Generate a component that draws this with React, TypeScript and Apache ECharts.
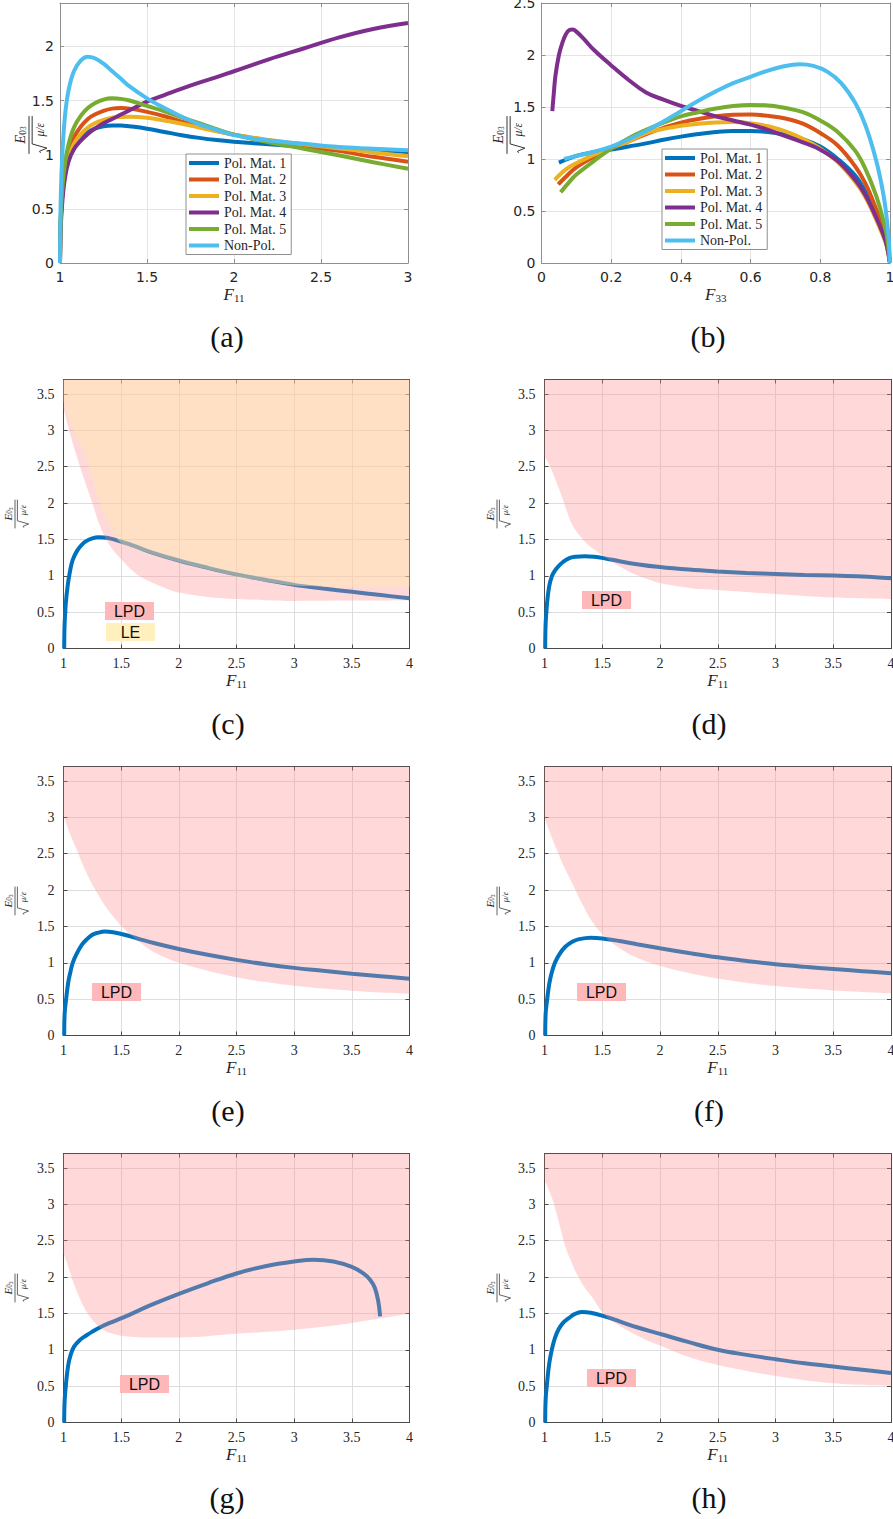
import React, { useEffect, useRef } from "react";
import * as echarts from "echarts";

// ---------------- names / colours ----------------
const curveNames = ["Pol. Mat. 1", "Pol. Mat. 2", "Pol. Mat. 3", "Pol. Mat. 4", "Pol. Mat. 5", "Non-Pol."];
const curveColors = ["#0072BD", "#D95319", "#EDB120", "#7E2F8E", "#77AC30", "#4DBEEE"];
const captions = ["(a)", "(b)", "(c)", "(d)", "(e)", "(f)", "(g)", "(h)"];

// ---------------- panel (a): E vs F11 ----------------
const aF11 = [1, 1.005, 1.015, 1.03, 1.05, 1.08, 1.12, 1.16, 1.2, 1.25, 1.3, 1.35, 1.4, 1.5, 1.6, 1.7, 1.8, 1.9, 2.0, 2.2, 2.4, 2.6, 2.8, 3.0];
const aPol1 = [0, 0.42, 0.66, 0.85, 0.98, 1.08, 1.16, 1.21, 1.24, 1.262, 1.27, 1.27, 1.262, 1.24, 1.21, 1.18, 1.155, 1.135, 1.12, 1.095, 1.075, 1.055, 1.04, 1.025];
const aPol2 = [0, 0.42, 0.68, 0.88, 1.03, 1.16, 1.26, 1.33, 1.37, 1.405, 1.425, 1.43, 1.425, 1.395, 1.355, 1.305, 1.26, 1.22, 1.185, 1.13, 1.08, 1.035, 0.98, 0.935];
const aPol3 = [0, 0.4, 0.65, 0.84, 0.98, 1.1, 1.19, 1.25, 1.29, 1.32, 1.34, 1.348, 1.35, 1.34, 1.315, 1.285, 1.25, 1.215, 1.185, 1.135, 1.095, 1.06, 1.02, 0.985];
const aPol4 = [0, 0.35, 0.6, 0.8, 0.94, 1.05, 1.13, 1.19, 1.24, 1.29, 1.33, 1.37, 1.41, 1.49, 1.55, 1.61, 1.665, 1.715, 1.77, 1.88, 1.98, 2.08, 2.16, 2.215];
const aPol5 = [0, 0.45, 0.72, 0.93, 1.1, 1.25, 1.36, 1.43, 1.475, 1.508, 1.52, 1.515, 1.5, 1.45, 1.4, 1.345, 1.29, 1.235, 1.185, 1.115, 1.055, 0.995, 0.93, 0.87];
const aNonPol = [0, 0.65, 1.05, 1.38, 1.6, 1.77, 1.87, 1.905, 1.89, 1.84, 1.77, 1.7, 1.63, 1.52, 1.43, 1.35, 1.28, 1.23, 1.18, 1.13, 1.1, 1.07, 1.055, 1.04];

// ---------------- panel (b): E vs F33 ----------------
const bPol1F33 = [0.05, 0.1, 0.15, 0.2, 0.25, 0.3, 0.35, 0.4, 0.45, 0.5, 0.55, 0.6, 0.65, 0.7, 0.75, 0.8, 0.85, 0.9, 0.93, 0.96, 0.98, 0.99, 1.0];
const bPol1E = [0.965, 1.03, 1.065, 1.09, 1.12, 1.15, 1.185, 1.215, 1.24, 1.26, 1.27, 1.27, 1.26, 1.235, 1.19, 1.12, 1.0, 0.84, 0.68, 0.45, 0.28, 0.18, 0];
const bPol2F33 = [0.048, 0.07, 0.1, 0.15, 0.2, 0.25, 0.3, 0.35, 0.4, 0.45, 0.5, 0.55, 0.6, 0.65, 0.7, 0.75, 0.8, 0.85, 0.9, 0.93, 0.96, 0.98, 0.99, 1.0];
const bPol2E = [0.756, 0.83, 0.92, 1.02, 1.1, 1.17, 1.24, 1.3, 1.35, 1.385, 1.41, 1.425, 1.428, 1.415, 1.39, 1.34, 1.25, 1.13, 0.93, 0.76, 0.52, 0.33, 0.22, 0];
const bPol3F33 = [0.038, 0.07, 0.1, 0.15, 0.2, 0.25, 0.3, 0.35, 0.4, 0.45, 0.5, 0.55, 0.6, 0.65, 0.7, 0.75, 0.8, 0.85, 0.9, 0.93, 0.96, 0.98, 0.99, 1.0];
const bPol3E = [0.8, 0.9, 0.96, 1.04, 1.11, 1.17, 1.25, 1.29, 1.32, 1.34, 1.352, 1.355, 1.345, 1.315, 1.265, 1.195, 1.1, 0.97, 0.78, 0.63, 0.42, 0.26, 0.17, 0];
const bPol4F33 = [0.031, 0.035, 0.04, 0.05, 0.06, 0.07, 0.08, 0.09, 0.1, 0.12, 0.15, 0.2, 0.25, 0.3, 0.35, 0.4, 0.45, 0.5, 0.55, 0.6, 0.65, 0.7, 0.75, 0.8, 0.85, 0.9, 0.93, 0.96, 0.98, 0.99, 1.0];
const bPol4E = [1.46, 1.62, 1.8, 2.0, 2.12, 2.2, 2.24, 2.245, 2.225, 2.16, 2.05, 1.9, 1.76, 1.64, 1.57, 1.51, 1.46, 1.41, 1.37, 1.33, 1.28, 1.22, 1.16, 1.09, 0.98, 0.8, 0.65, 0.44, 0.28, 0.18, 0];
const bPol5F33 = [0.055, 0.08, 0.1, 0.15, 0.2, 0.25, 0.3, 0.35, 0.4, 0.45, 0.5, 0.55, 0.6, 0.65, 0.7, 0.75, 0.8, 0.85, 0.9, 0.93, 0.96, 0.98, 0.99, 1.0];
const bPol5E = [0.68, 0.78, 0.85, 0.98, 1.1, 1.2, 1.28, 1.35, 1.41, 1.45, 1.485, 1.51, 1.52, 1.515, 1.49, 1.45, 1.37, 1.26, 1.08, 0.9, 0.65, 0.42, 0.28, 0];
const bNonPolF33 = [0.065, 0.1, 0.15, 0.2, 0.25, 0.3, 0.35, 0.4, 0.45, 0.5, 0.55, 0.6, 0.65, 0.7, 0.74, 0.78, 0.82, 0.86, 0.9, 0.93, 0.96, 0.98, 0.99, 0.997, 1.0];
const bNonPolE = [1.0, 1.03, 1.07, 1.12, 1.19, 1.27, 1.36, 1.46, 1.56, 1.65, 1.73, 1.79, 1.85, 1.895, 1.91, 1.895, 1.84, 1.73, 1.54, 1.32, 0.99, 0.68, 0.45, 0.2, 0];

// ---------------- panel (c) ----------------
const cF11 = [1.006, 1.01, 1.02, 1.035, 1.055, 1.08, 1.12, 1.16, 1.2, 1.25, 1.3, 1.35, 1.4, 1.5, 1.6, 1.75, 2.0, 2.25, 2.5, 2.75, 3.0, 3.25, 3.5, 3.75, 4.0];
const cE = [0, 0.35, 0.62, 0.85, 1.05, 1.22, 1.35, 1.43, 1.48, 1.515, 1.53, 1.528, 1.515, 1.47, 1.42, 1.33, 1.21, 1.11, 1.02, 0.945, 0.875, 0.825, 0.78, 0.735, 0.69];
const cLpdF11 = [1, 1.05, 1.1, 1.173, 1.25, 1.318, 1.4, 1.52, 1.62, 1.75, 1.9, 2.0, 2.25, 2.5, 2.75, 3.0, 3.5, 4.0];
const cLpdE = [3.3, 3.0, 2.72, 2.36, 2.0, 1.68, 1.42, 1.195, 1.04, 0.92, 0.82, 0.77, 0.71, 0.68, 0.665, 0.655, 0.66, 0.665];
const cLeF11 = [1, 1.05, 1.1, 1.173, 1.25, 1.318, 1.405, 1.45, 1.5, 1.6, 1.75, 2.0, 2.25, 2.5, 2.75, 3.0, 3.25, 3.5, 3.75, 4.0];
const cLeE = [3.4, 3.15, 2.95, 2.73, 2.35, 2.0, 1.68, 1.55, 1.45, 1.39, 1.305, 1.185, 1.085, 0.995, 0.92, 0.865, 0.852, 0.85, 0.85, 0.85];

// ---------------- panel (d) ----------------
const dF11 = [1.006, 1.01, 1.022, 1.04, 1.063, 1.09, 1.12, 1.16, 1.21, 1.27, 1.35, 1.43, 1.52, 1.65, 1.8, 2.0, 2.25, 2.5, 2.75, 3.0, 3.25, 3.5, 3.75, 4.0];
const dE = [0, 0.35, 0.62, 0.85, 0.99, 1.07, 1.13, 1.19, 1.24, 1.262, 1.27, 1.262, 1.24, 1.2, 1.16, 1.12, 1.085, 1.06, 1.04, 1.025, 1.012, 1.003, 0.99, 0.966];
const dLpdF11 = [1, 1.05, 1.1, 1.15, 1.2, 1.24, 1.3, 1.35, 1.43, 1.52, 1.65, 1.76, 1.9, 2.0, 2.27, 2.5, 3.0, 3.5, 4.0];
const dLpdE = [2.64, 2.5, 2.3, 2.09, 1.86, 1.7, 1.56, 1.47, 1.36, 1.26, 1.13, 1.035, 0.95, 0.9, 0.83, 0.806, 0.75, 0.7, 0.68];

// ---------------- panel (e) ----------------
const eF11 = [1.006, 1.01, 1.022, 1.04, 1.058, 1.08, 1.116, 1.16, 1.2, 1.25, 1.29, 1.36, 1.43, 1.52, 1.65, 1.8, 2.0, 2.25, 2.5, 2.75, 3.0, 3.25, 3.5, 3.75, 4.0];
const eE = [0, 0.3, 0.49, 0.72, 0.86, 1.0, 1.13, 1.25, 1.32, 1.385, 1.41, 1.43, 1.42, 1.39, 1.33, 1.265, 1.19, 1.11, 1.04, 0.98, 0.93, 0.89, 0.85, 0.815, 0.78];
const eLpdF11 = [1, 1.05, 1.116, 1.17, 1.23, 1.3, 1.376, 1.45, 1.52, 1.6, 1.75, 1.9, 2.0, 2.25, 2.5, 2.75, 3.0, 3.5, 4.0];
const eLpdE = [3.03, 2.8, 2.55, 2.34, 2.14, 1.94, 1.75, 1.6, 1.475, 1.36, 1.18, 1.06, 1.0, 0.89, 0.8, 0.735, 0.685, 0.617, 0.575];

// ---------------- panel (f) ----------------
const fF11 = [1.006, 1.01, 1.022, 1.04, 1.06, 1.09, 1.13, 1.18, 1.24, 1.3, 1.4, 1.5, 1.65, 1.8, 2.0, 2.25, 2.5, 2.75, 3.0, 3.25, 3.5, 3.75, 4.0];
const fE = [0, 0.3, 0.48, 0.7, 0.85, 1.0, 1.12, 1.22, 1.29, 1.325, 1.345, 1.335, 1.3, 1.255, 1.2, 1.135, 1.075, 1.025, 0.98, 0.945, 0.915, 0.885, 0.855];
const fLpdF11 = [1, 1.05, 1.1, 1.17, 1.25, 1.33, 1.42, 1.52, 1.65, 1.8, 2.0, 2.25, 2.5, 2.75, 3.0, 3.5, 4.0];
const fLpdE = [3.0, 2.78, 2.58, 2.32, 2.06, 1.8, 1.55, 1.36, 1.2, 1.07, 0.96, 0.86, 0.785, 0.725, 0.68, 0.62, 0.58];

// ---------------- panel (g) ----------------
const gF11 = [1.006, 1.01, 1.022, 1.04, 1.058, 1.09, 1.145, 1.2, 1.25, 1.318, 1.4, 1.52, 1.75, 2.0, 2.25, 2.5, 2.75, 3.0, 3.17, 3.34, 3.5, 3.6, 3.66, 3.7, 3.73, 3.745];
const gE = [0, 0.3, 0.54, 0.78, 0.91, 1.04, 1.14, 1.2, 1.25, 1.31, 1.37, 1.445, 1.61, 1.77, 1.915, 2.05, 2.15, 2.215, 2.24, 2.215, 2.14, 2.05, 1.96, 1.85, 1.66, 1.46];
const gLpdF11 = [1, 1.04, 1.087, 1.13, 1.173, 1.23, 1.29, 1.35, 1.405, 1.52, 1.75, 2.0, 2.5, 3.0, 3.5, 4.0];
const gLpdE = [2.33, 2.15, 1.92, 1.75, 1.6, 1.45, 1.34, 1.27, 1.23, 1.19, 1.17, 1.17, 1.22, 1.275, 1.37, 1.5];

// ---------------- panel (h) ----------------
const hF11 = [1.006, 1.01, 1.022, 1.04, 1.063, 1.09, 1.12, 1.16, 1.21, 1.26, 1.32, 1.4, 1.52, 1.65, 1.8, 2.02, 2.25, 2.5, 2.75, 3.0, 3.25, 3.5, 3.75, 4.0];
const hE = [0, 0.32, 0.54, 0.8, 1.0, 1.16, 1.275, 1.37, 1.435, 1.49, 1.52, 1.51, 1.46, 1.39, 1.31, 1.21, 1.105, 1.0, 0.93, 0.87, 0.815, 0.77, 0.725, 0.68];
const hLpdF11 = [1, 1.05, 1.09, 1.13, 1.18, 1.24, 1.29, 1.35, 1.41, 1.52, 1.64, 1.76, 1.9, 2.02, 2.25, 2.5, 2.75, 3.0, 3.5, 4.0];
const hLpdE = [3.34, 3.15, 2.96, 2.72, 2.42, 2.18, 2.01, 1.85, 1.73, 1.48, 1.34, 1.23, 1.12, 1.045, 0.9, 0.79, 0.71, 0.64, 0.54, 0.505];

// ---------------- layout (pixels) ----------------
const LAYOUT = [
  { left: 60, top: 3, width: 348, height: 260 },
  { left: 541.5, top: 3, width: 348.5, height: 260 },
  { left: 63.5, top: 379.5, width: 346, height: 269 },
  { left: 544.5, top: 379.5, width: 346.5, height: 269 },
  { left: 63.5, top: 766.5, width: 346, height: 269 },
  { left: 544.5, top: 766.5, width: 346.5, height: 269 },
  { left: 63.5, top: 1153.5, width: 346, height: 269 },
  { left: 544.5, top: 1153.5, width: 346.5, height: 269 },
];
const AXES = [
  { xMin: 1, xMax: 3, xStep: 0.5, yMax: 2.4, sub: "11" },
  { xMin: 0, xMax: 1, xStep: 0.2, yMax: 2.5, sub: "33" },
  { xMin: 1, xMax: 4, xStep: 0.5, yMax: 3.7, sub: "11" },
  { xMin: 1, xMax: 4, xStep: 0.5, yMax: 3.7, sub: "11" },
  { xMin: 1, xMax: 4, xStep: 0.5, yMax: 3.7, sub: "11" },
  { xMin: 1, xMax: 4, xStep: 0.5, yMax: 3.7, sub: "11" },
  { xMin: 1, xMax: 4, xStep: 0.5, yMax: 3.7, sub: "11" },
  { xMin: 1, xMax: 4, xStep: 0.5, yMax: 3.7, sub: "11" },
];
const CAPTION_POS = [[227, 336], [708, 336], [228, 723], [709, 723], [228, 1110], [709, 1110], [227, 1497], [709, 1497]];
const YLABEL_POS = [[29, 135, 1.05], [507, 135, 1.05], [15, 514, 0.8], [497, 514, 0.8], [15, 901, 0.8], [497, 901, 0.8], [15, 1288, 0.8], [497, 1288, 0.8]];
const TAGS = [
  { text: "LPD", x: 105, y: 602, fill: "#FFB8BA" },
  { text: "LE", x: 106, y: 623, fill: "#FFF0BE" },
  { text: "LPD", x: 582, y: 591, fill: "#FFB8BA" },
  { text: "LPD", x: 92, y: 983, fill: "#FFB8BA" },
  { text: "LPD", x: 577, y: 983, fill: "#FFB8BA" },
  { text: "LPD", x: 120, y: 1375, fill: "#FFB8BA" },
  { text: "LPD", x: 587, y: 1369, fill: "#FFB8BA" },
];

const INK = "#262626";
const LPD_COLOR = "rgb(255,140,140)";
const LE_COLOR = "rgb(255,235,168)";

const zip = (xs: number[], ys: number[]) => xs.map((x, i) => [x, ys[i]]);

function yLabel(cx: number, cy: number, s: number) {
  return {
    type: "group",
    x: cx,
    y: cy,
    rotation: Math.PI / 2,
    scaleX: s,
    scaleY: s,
    silent: true,
    children: [
      { type: "line", shape: { x1: -18, y1: 0, x2: 18, y2: 0 }, style: { stroke: INK, lineWidth: 0.9 } },
      {
        type: "text",
        style: {
          text: "{e|E}{z|0}{t|3}",
          x: 0,
          y: -1.5,
          align: "center",
          verticalAlign: "bottom",
          fill: INK,
          rich: {
            e: { fontFamily: "Liberation Serif", fontStyle: "italic", fontSize: 14, lineHeight: 15 },
            z: { fontFamily: "Liberation Serif", fontSize: 9, lineHeight: 9, verticalAlign: "bottom" },
            t: { fontFamily: "Liberation Serif", fontSize: 7, lineHeight: 5, verticalAlign: "bottom" },
          },
        },
      },
      {
        type: "polyline",
        shape: { points: [[-17, 11], [-15.5, 10], [-12.5, 17], [-8.5, 3], [18, 3]] },
        style: { stroke: INK, lineWidth: 0.9, fill: "none" },
      },
      {
        type: "text",
        style: {
          text: "μ/ε",
          x: 5,
          y: 10.5,
          align: "center",
          verticalAlign: "middle",
          font: 'italic 11px "Liberation Serif"',
          fill: INK,
        },
      },
    ],
  };
}

function buildOption() {
  const grid = LAYOUT.map((g) => ({ ...g, show: false, containLabel: false, outerBoundsMode: "none" }));
  const xAxis: any[] = [];
  const yAxis: any[] = [];
  AXES.forEach((a, i) => {
    const top = i < 2;
    const box = top ? "#8f8f8f" : "#4a4a4a";
    const gridColor = top ? "#e4e4e4" : "#dedede";
    const tickFont = top ? "DejaVu Sans" : "Liberation Serif";
    const base = { type: "value", gridIndex: i, silent: true };
    xAxis.push({
      ...base,
      position: "bottom",
      min: a.xMin,
      max: a.xMax,
      interval: a.xStep,
      axisLine: { show: true, onZero: false, lineStyle: { color: box, width: 1 } },
      axisTick: { show: true, inside: true, length: 4, lineStyle: { color: box } },
      axisLabel: { margin: top ? 7 : 8, fontFamily: tickFont, fontSize: 14, color: INK, hideOverlap: false },
      splitLine: { show: true, lineStyle: { color: gridColor, width: 1 } },
      name: "{f|F}{s|" + a.sub + "}",
      nameLocation: "middle",
      nameGap: top ? 22 : 23,
      nameMoveOverlap: false,
      nameTextStyle: {
        rich: {
          f: { fontFamily: "Liberation Serif", fontStyle: "italic", fontSize: 17, lineHeight: 18, color: INK },
          s: { fontFamily: "Liberation Serif", fontSize: 11, lineHeight: 11, verticalAlign: "bottom", color: INK },
        },
      },
    });
    xAxis.push({
      ...base,
      position: "top",
      min: a.xMin,
      max: a.xMax,
      interval: a.xStep,
      axisLine: { show: true, onZero: false, lineStyle: { color: box, width: 1 } },
      axisTick: { show: true, inside: true, length: 4, lineStyle: { color: box } },
      axisLabel: { show: false },
      splitLine: { show: false },
    });
    yAxis.push({
      ...base,
      position: "left",
      min: 0,
      max: a.yMax,
      interval: 0.5,
      axisLine: { show: true, onZero: false, lineStyle: { color: box, width: 1 } },
      axisTick: { show: true, inside: true, length: 4, lineStyle: { color: box } },
      axisLabel: {
        margin: top ? 6 : 9,
        fontFamily: tickFont,
        fontSize: 14,
        color: INK,
        showMaxLabel: a.yMax === 2.5,
        hideOverlap: false,
      },
      splitLine: { show: true, lineStyle: { color: gridColor, width: 1 } },
    });
    yAxis.push({
      ...base,
      position: "right",
      min: 0,
      max: a.yMax,
      interval: 0.5,
      axisLine: { show: true, onZero: false, lineStyle: { color: box, width: 1 } },
      axisTick: { show: true, inside: true, length: 4, lineStyle: { color: box } },
      axisLabel: { show: false },
      splitLine: { show: false },
    });
  });

  const curve = (i: number, name: string | undefined, color: string, data: number[][]) => ({
    type: "line",
    name,
    xAxisIndex: 2 * i,
    yAxisIndex: 2 * i,
    data,
    symbol: "none",
    showSymbol: false,
    smooth: 0.4,
    silent: true,
    z: 2,
    lineStyle: { width: 4, color },
    itemStyle: { color },
    emphasis: { disabled: true },
  });
  const region = (i: number, color: string, opacity: number, data: number[][], z: number) => ({
    type: "line",
    xAxisIndex: 2 * i,
    yAxisIndex: 2 * i,
    data,
    symbol: "none",
    showSymbol: false,
    smooth: 0.4,
    silent: true,
    z,
    lineStyle: { width: 0, opacity: 0 },
    areaStyle: { color, opacity, origin: "end" },
    emphasis: { disabled: true },
  });

  const aSets = [aPol1, aPol2, aPol3, aPol4, aPol5, aNonPol];
  const bSets = [
    [bPol1F33, bPol1E],
    [bPol2F33, bPol2E],
    [bPol3F33, bPol3E],
    [bPol4F33, bPol4E],
    [bPol5F33, bPol5E],
    [bNonPolF33, bNonPolE],
  ];
  const series: any[] = [];
  aSets.forEach((ys, k) => series.push(curve(0, curveNames[k], curveColors[k], zip(aF11, ys))));
  bSets.forEach(([xs, ys], k) => series.push(curve(1, curveNames[k], curveColors[k], zip(xs, ys))));

  const lower = [
    { x: cF11, y: cE, lx: cLpdF11, ly: cLpdE },
    { x: dF11, y: dE, lx: dLpdF11, ly: dLpdE },
    { x: eF11, y: eE, lx: eLpdF11, ly: eLpdE },
    { x: fF11, y: fE, lx: fLpdF11, ly: fLpdE },
    { x: gF11, y: gE, lx: gLpdF11, ly: gLpdE },
    { x: hF11, y: hE, lx: hLpdF11, ly: hLpdE },
  ];
  lower.forEach((p, k) => {
    const gi = k + 2;
    series.push(curve(gi, undefined, curveColors[0], zip(p.x, p.y)));
    series.push(region(gi, LPD_COLOR, 0.33, zip(p.lx, p.ly), 3));
    if (k === 0) series.push(region(gi, LE_COLOR, 0.4, zip(cLeF11, cLeE), 3.5));
  });

  const legendBase = {
    data: curveNames,
    orient: "vertical",
    icon: "rect",
    itemWidth: 30,
    itemHeight: 4,
    itemGap: 0.5,
    selectedMode: false,
    backgroundColor: "#ffffff",
    borderColor: "#8f8f8f",
    borderWidth: 1,
    borderRadius: 0,
    padding: [1, 5, 1, 3],
    z: 8,
    textStyle: { fontFamily: "Liberation Serif", fontSize: 14, lineHeight: 16, color: INK },
  };

  const graphic: any[] = [];
  captions.forEach((c, i) => {
    graphic.push({
      type: "text",
      silent: true,
      style: {
        text: c,
        x: CAPTION_POS[i][0],
        y: CAPTION_POS[i][1],
        align: "center",
        verticalAlign: "middle",
        font: '30px "Liberation Serif"',
        fill: "#111111",
      },
    });
  });
  YLABEL_POS.forEach(([x, y, s]) => graphic.push(yLabel(x, y, s)));
  TAGS.forEach((t) => {
    graphic.push({
      type: "rect",
      silent: true,
      z: 10,
      shape: { x: t.x, y: t.y, width: 49, height: 18 },
      style: { fill: t.fill },
    });
    graphic.push({
      type: "text",
      silent: true,
      z: 11,
      style: {
        text: t.text,
        x: t.x + 24.5,
        y: t.y + 9.5,
        align: "center",
        verticalAlign: "middle",
        font: '16px "Liberation Sans"',
        fill: "#111111",
      },
    });
  });

  return {
    animation: false,
    backgroundColor: "#ffffff",
    grid,
    xAxis,
    yAxis,
    legend: [
      { ...legendBase, left: 186, top: 154 },
      { ...legendBase, left: 662, top: 149 },
    ],
    series,
    graphic,
  };
}

export default function App() {
  const ref = useRef<HTMLDivElement>(null);
  useEffect(() => {
    if (!ref.current) return;
    const chart = echarts.init(ref.current, null, { renderer: "svg" });
    chart.setOption(buildOption() as any);
    return () => chart.dispose();
  }, []);
  return (
    <div
      ref={ref}
      style={{ position: "absolute", left: 0, top: 0, width: 893, height: 1519, background: "#fff" }}
    />
  );
}
